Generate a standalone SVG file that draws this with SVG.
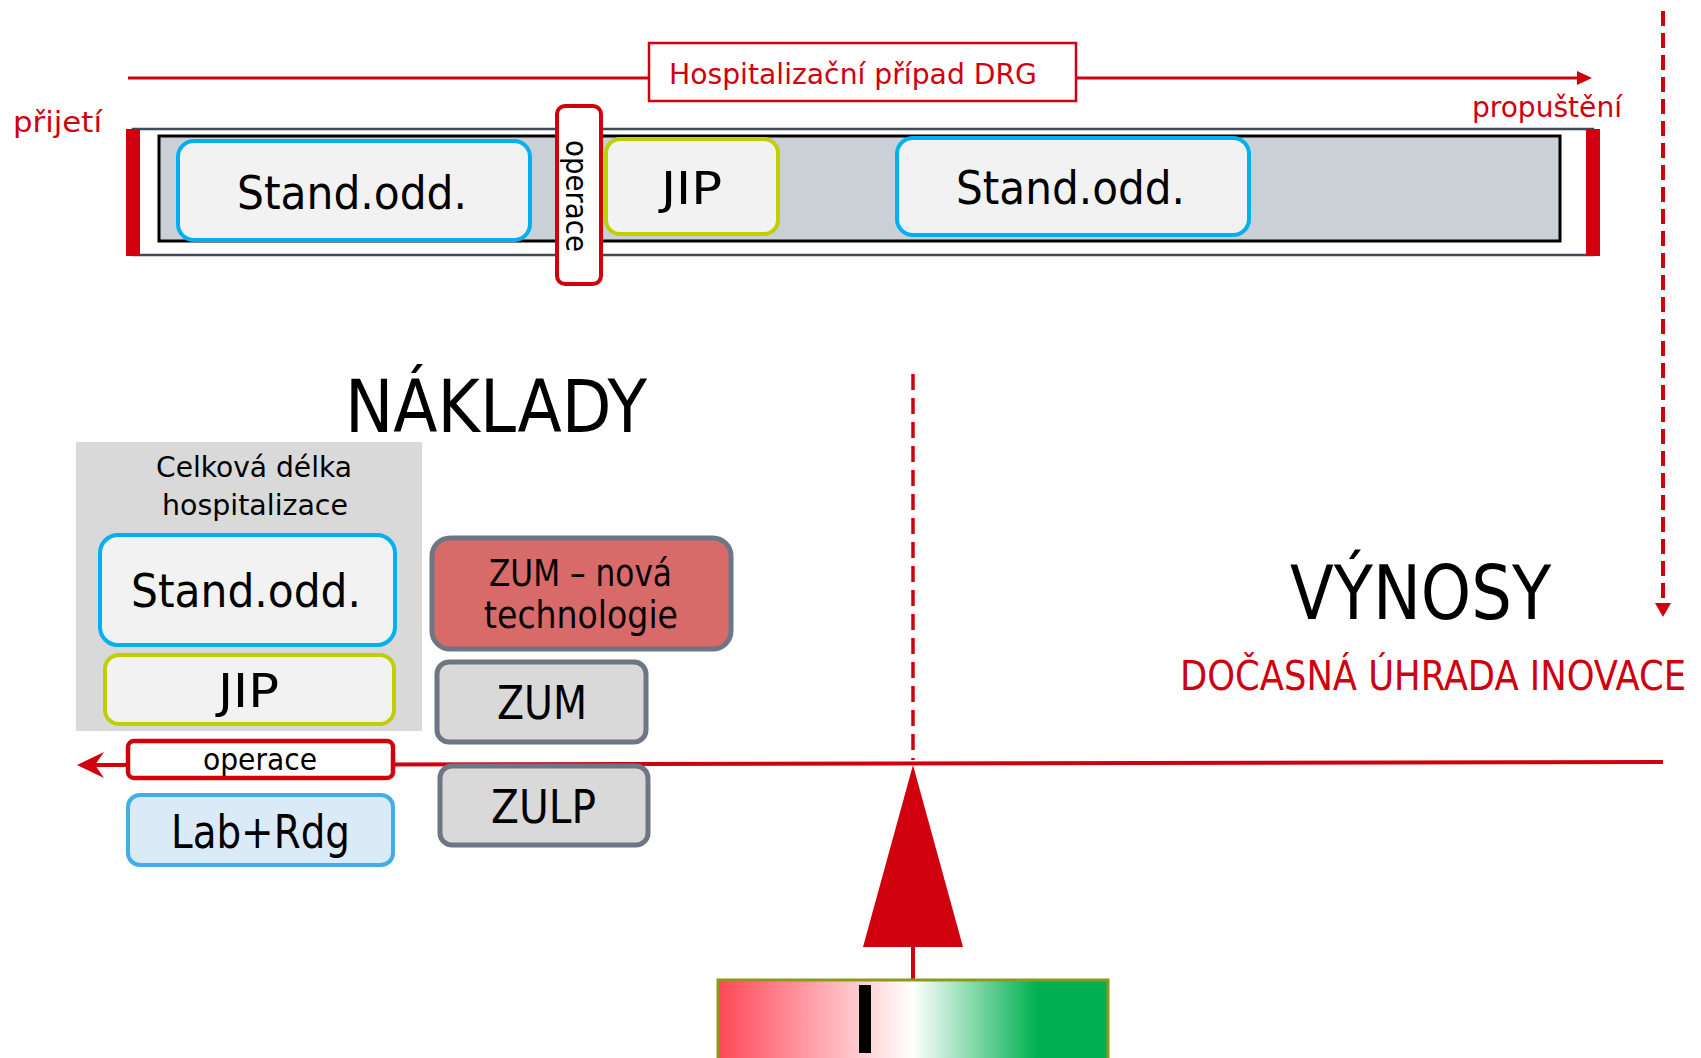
<svg xmlns="http://www.w3.org/2000/svg" width="1701" height="1058" viewBox="0 0 1701 1058">
<defs>
<style>
.t{font-family:'DejaVu Sans Condensed','DejaVu Sans','Liberation Sans',sans-serif;fill:#000}
.r{fill:#d0000f}
.box{fill:#f2f2f2;stroke-width:4}
.cy{stroke:#00b0f0}
.yg{stroke:#c0cf00}
.gb{fill:#d9d9d9;stroke:#6d7682;stroke-width:5}
.rl{stroke:#d0000f;fill:none}
</style>
<linearGradient id="grad" x1="0" y1="0" x2="1" y2="0">
<stop offset="0" stop-color="#ff4757"/>
<stop offset="0.5" stop-color="#ffffff"/>
<stop offset="0.82" stop-color="#00b050"/>
<stop offset="1" stop-color="#00b050"/>
</linearGradient>
</defs>
<rect width="1701" height="1058" fill="#fff"/>

<g id="connectors">
<line x1="128" y1="78" x2="1578" y2="78" class="rl" stroke-width="3"/>
<path d="M1592,78 L1577,71 L1577,85 Z" class="r"/>
<line x1="1663" y1="11" x2="1663" y2="604" class="rl" stroke-width="4" stroke-dasharray="15 7"/>
<path d="M1663,617 L1655,603 L1671,603 Z" class="r"/>
<line x1="913" y1="374" x2="913" y2="760" class="rl" stroke-width="3.5" stroke-dasharray="16 8"/>
<line x1="95" y1="765" x2="1663" y2="762" class="rl" stroke-width="4"/>
<path d="M77,765 L104,752 L95,765 L104,778 Z" class="r"/>
<line x1="913" y1="940" x2="913" y2="980" class="rl" stroke-width="4"/>
</g>

<g id="drg-label">
<rect x="649" y="43" width="427" height="58" fill="#fff" stroke="#d0000f" stroke-width="2.5"/>
<text x="669" y="84" class="t r" font-size="29" textLength="368" lengthAdjust="spacingAndGlyphs">Hospitalizační případ DRG</text>
</g>
<g id="prijeti"><text x="13" y="132" class="t r" font-size="29" textLength="89" lengthAdjust="spacingAndGlyphs">přijetí</text></g>
<g id="propusteni"><text x="1622" y="117" text-anchor="end" class="t r" font-size="29" textLength="150" lengthAdjust="spacingAndGlyphs">propuštění</text></g>

<g id="timeline">
<rect x="133" y="129" width="1460" height="126" fill="#fff" stroke="#414b56" stroke-width="2.5"/>
<rect x="159" y="136" width="1401" height="105" fill="#c9d0d6" stroke="#000" stroke-width="3"/>
<rect x="126" y="129" width="14" height="127" class="r"/>
<rect x="1586" y="129" width="14" height="127" class="r"/>
</g>
<g id="stand1">
<rect x="178" y="141" width="352" height="99" rx="16" class="box cy"/>
<text x="237" y="209" class="t" font-size="46" textLength="230" lengthAdjust="spacingAndGlyphs">Stand.odd.</text>
</g>
<g id="operace-v">
<rect x="557" y="106" width="44" height="178" rx="8" fill="#fff" stroke="#d0000f" stroke-width="4"/>
<text transform="translate(566,140) rotate(90)" class="t" font-size="31" textLength="112" lengthAdjust="spacingAndGlyphs">operace</text>
</g>
<g id="jip1">
<rect x="606" y="139" width="172" height="95" rx="14" class="box yg"/>
<text x="661" y="204" class="t" font-size="44" textLength="61" lengthAdjust="spacingAndGlyphs">JIP</text>
</g>
<g id="stand2">
<rect x="897" y="138" width="352" height="97" rx="16" class="box cy"/>
<text x="956" y="204" class="t" font-size="46" textLength="229" lengthAdjust="spacingAndGlyphs">Stand.odd.</text>
</g>

<g id="naklady"><text x="345" y="432" class="t" font-size="73" textLength="302" lengthAdjust="spacingAndGlyphs">NÁKLADY</text></g>

<g id="panel">
<rect x="76" y="442" width="346" height="289" fill="#d9d9d9"/>
<text x="156" y="477" class="t" font-size="29" textLength="196" lengthAdjust="spacingAndGlyphs">Celková délka</text>
<text x="162" y="515" class="t" font-size="29" textLength="186" lengthAdjust="spacingAndGlyphs">hospitalizace</text>
</g>
<g id="stand3">
<rect x="100" y="535" width="295" height="110" rx="18" class="box cy"/>
<text x="131" y="607" class="t" font-size="47" textLength="230" lengthAdjust="spacingAndGlyphs">Stand.odd.</text>
</g>
<g id="jip2">
<rect x="105" y="655" width="289" height="69" rx="14" class="box yg"/>
<text x="218" y="707" class="t" font-size="46" textLength="61" lengthAdjust="spacingAndGlyphs">JIP</text>
</g>
<g id="operace-h">
<rect x="128" y="741" width="265" height="37" rx="6" fill="#fff" stroke="#d0000f" stroke-width="4.5"/>
<text x="203" y="770" class="t" font-size="31" textLength="114" lengthAdjust="spacingAndGlyphs">operace</text>
</g>
<g id="labrdg">
<rect x="128" y="795" width="265" height="70" rx="12" fill="#dbeaf7" stroke="#41aee8" stroke-width="4"/>
<text x="171" y="848" class="t" font-size="47" textLength="179" lengthAdjust="spacingAndGlyphs">Lab+Rdg</text>
</g>
<g id="zum-nova">
<rect x="432" y="538" width="299" height="111" rx="18" fill="#d96a6a" stroke="#6d7682" stroke-width="5"/>
<text x="489" y="586" class="t" font-size="37" textLength="183" lengthAdjust="spacingAndGlyphs">ZUM – nová</text>
<text x="484" y="628" class="t" font-size="37" textLength="194" lengthAdjust="spacingAndGlyphs">technologie</text>
</g>
<g id="zum">
<rect x="437" y="662" width="209" height="80" rx="12" class="gb"/>
<text x="497" y="719" class="t" font-size="47" textLength="90" lengthAdjust="spacingAndGlyphs">ZUM</text>
</g>
<g id="zulp">
<rect x="440" y="766" width="208" height="79" rx="12" class="gb"/>
<text x="491" y="823" class="t" font-size="47" textLength="105" lengthAdjust="spacingAndGlyphs">ZULP</text>
</g>

<g id="vynosy">
<text x="1290" y="619" class="t" font-size="74" textLength="261" lengthAdjust="spacingAndGlyphs">VÝNOSY</text>
<text x="1686" y="690" text-anchor="end" class="t r" font-size="40" textLength="506" lengthAdjust="spacingAndGlyphs">DOČASNÁ ÚHRADA INOVACE</text>
</g>

<g id="balance">
<path d="M913,765 L863,947 L963,947 Z" class="r"/>
<rect x="718" y="980" width="390" height="90" fill="url(#grad)" stroke="#8a9a1a" stroke-width="3"/>
<rect x="859" y="985" width="12" height="68" fill="#000"/>
</g>
</svg>
